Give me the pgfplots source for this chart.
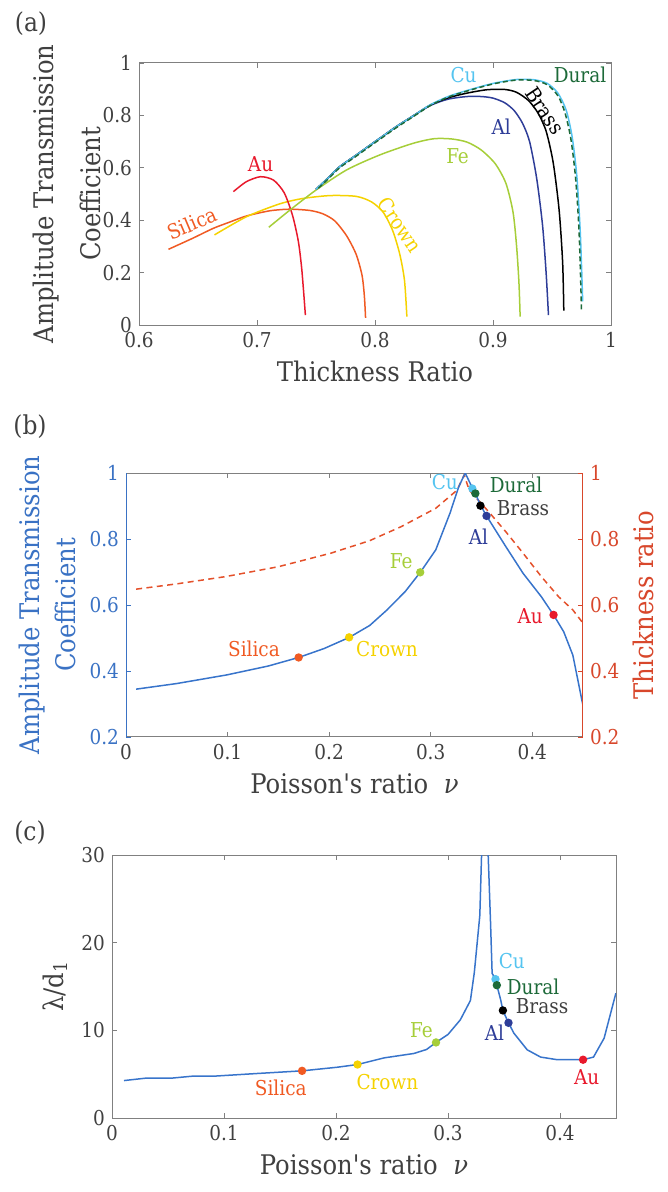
\documentclass[border=0pt]{standalone}
\usepackage{pgfplots}
\pgfplotsset{compat=1.18}
\usepackage{fontspec}
\setmainfont{DejaVu Serif Condensed}
\definecolor{txt}{RGB}{64,64,64}
\definecolor{axg}{RGB}{128,128,128}
\definecolor{csil}{RGB}{240,90,35}
\definecolor{ccro}{RGB}{245,210,0}
\definecolor{cau}{RGB}{232,25,44}
\definecolor{cfe}{RGB}{166,206,57}
\definecolor{cal}{RGB}{46,61,152}
\definecolor{ccu}{RGB}{85,196,240}
\definecolor{cdu}{RGB}{29,106,57}
\definecolor{cblue}{RGB}{56,116,203}
\definecolor{cred}{RGB}{228,80,42}
\definecolor{cblab}{RGB}{58,114,196}
\definecolor{crlab}{RGB}{216,71,43}
\newcommand\tf{\fontsize{10.25}{12}\selectfont}
\newcommand\lf{\fontsize{13.5}{17}\selectfont}
\pgfplotsset{
  mystyle/.style={
    scale only axis, anchor=north west,
    tick align=inside, major tick length=2.5pt,
    major tick style={axg, line width=0.4pt},
    axis line style={axg, line width=0.5pt},
    tick label style={font=\tf, text=txt},
    label style={font=\lf, text=txt},
    /pgf/number format/assume math mode=true,
    clip mode=individual,
    every axis plot/.append style={line width=0.75pt},
  },
  dot/.style={only marks, mark=*, mark size=1.7pt, color=#1},
}
\begin{document}
\begin{tikzpicture}
\path[use as bounding box] (0,0) rectangle (334pt,-596pt);
\node[font=\fontsize{13}{15}\selectfont, text=txt] at (15.5pt,-12pt) {(a)};
\node[font=\fontsize{13}{15}\selectfont, text=txt] at (15pt,-213.5pt) {(b)};
\node[font=\fontsize{13}{15}\selectfont, text=txt] at (15pt,-416.5pt) {(c)};

% ---------------- (a)
\begin{axis}[mystyle, at={(69.5pt,-31.5pt)}, width=236pt, height=131pt,
  xmin=0.6, xmax=1, ymin=0, ymax=1,
  xtick={0.6,0.7,0.8,0.9,1}, ytick={0,0.2,0.4,0.6,0.8,1},
  xlabel={Thickness Ratio},
  ylabel={Amplitude Transmission\\Coefficient},
  ylabel style={align=center, font=\fontsize{13.5}{23.5}\selectfont,
    at={(axis description cs:-0.1536,0.5)}, anchor=center}]
\addplot[csil, smooth, tension=0.45] coordinates {(0.625,0.289)(0.645,0.330)(0.663,0.369)(0.677,0.393)(0.691,0.416)(0.711,0.436)(0.728,0.442)(0.745,0.437)(0.756,0.424)(0.766,0.397)(0.776,0.340)(0.784,0.270)(0.789,0.190)(0.791,0.110)(0.792,0.027)};
\addplot[ccro, smooth, tension=0.45] coordinates {(0.664,0.344)(0.691,0.413)(0.719,0.462)(0.739,0.483)(0.762,0.494)(0.784,0.491)(0.797,0.470)(0.807,0.430)(0.815,0.360)(0.821,0.270)(0.825,0.170)(0.827,0.032)};
\addplot[cau, smooth, tension=0.45] coordinates {(0.680,0.509)(0.691,0.547)(0.703,0.566)(0.714,0.553)(0.723,0.505)(0.730,0.420)(0.735,0.320)(0.738,0.210)(0.741,0.038)};
\addplot[cfe, smooth, tension=0.45] coordinates {(0.710,0.373)(0.728,0.439)(0.750,0.515)(0.776,0.592)(0.804,0.649)(0.832,0.693)(0.850,0.711)(0.865,0.710)(0.878,0.698)(0.890,0.668)(0.902,0.615)(0.911,0.540)(0.917,0.430)(0.920,0.300)(0.922,0.160)(0.923,0.032)};
\addplot[cal, smooth, tension=0.45] coordinates {(0.750,0.518)(0.760,0.56)(0.770,0.604)(0.783,0.645)(0.796,0.687)(0.807,0.722)(0.818,0.757)(0.833,0.80)(0.847,0.838)(0.862,0.862)(0.878,0.872)(0.890,0.872)(0.900,0.866)(0.910,0.848)(0.918,0.818)(0.925,0.770)(0.931,0.700)(0.937,0.560)(0.942,0.380)(0.945,0.200)(0.947,0.038)};
\addplot[black, smooth, tension=0.45] coordinates {(0.750,0.518)(0.760,0.56)(0.770,0.604)(0.783,0.645)(0.796,0.687)(0.807,0.722)(0.818,0.757)(0.833,0.80)(0.847,0.840)(0.862,0.867)(0.878,0.885)(0.895,0.898)(0.910,0.899)(0.920,0.888)(0.930,0.857)(0.938,0.810)(0.945,0.740)(0.951,0.620)(0.956,0.440)(0.959,0.240)(0.960,0.055)};
\addplot[ccu, smooth, tension=0.45] coordinates {(0.750,0.518)(0.760,0.56)(0.770,0.604)(0.783,0.645)(0.796,0.687)(0.807,0.722)(0.818,0.757)(0.833,0.80)(0.847,0.841)(0.862,0.872)(0.878,0.895)(0.900,0.922)(0.920,0.937)(0.935,0.936)(0.946,0.922)(0.955,0.885)(0.962,0.82)(0.967,0.72)(0.971,0.57)(0.974,0.35)(0.976,0.09)};
\addplot[cdu, smooth, tension=0.45, dash pattern=on 2.5pt off 1.5pt] coordinates {(0.752,0.522)(0.760,0.556)(0.770,0.600)(0.783,0.641)(0.796,0.683)(0.807,0.718)(0.818,0.753)(0.833,0.797)(0.847,0.838)(0.862,0.870)(0.878,0.893)(0.900,0.920)(0.920,0.935)(0.935,0.933)(0.946,0.917)(0.955,0.875)(0.961,0.81)(0.966,0.71)(0.970,0.56)(0.973,0.35)(0.975,0.057)};
\node[text=ccu, font=\tf] at (axis cs:0.875,0.954) {Cu};
\node[text=cdu, font=\tf] at (axis cs:0.9737,0.954) {Dural};
\node[text=black, font=\tf, rotate=-56, inner sep=0pt] at (axis cs:0.944,0.818) {Brass};
\node[text=cal, font=\tf] at (axis cs:0.907,0.755) {Al};
\node[text=cfe, font=\tf] at (axis cs:0.870,0.645) {Fe};
\node[text=ccro, font=\tf, rotate=-56, inner sep=0pt] at (axis cs:0.821,0.382) {Crown};
\node[text=csil, font=\tf, rotate=23, inner sep=0pt] at (axis cs:0.645,0.388) {Silica};
\node[text=cau, font=\tf] at (axis cs:0.703,0.613) {Au};
\end{axis}

% ---------------- (b)
\begin{axis}[mystyle, at={(63pt,-236.5pt)}, width=228.5pt, height=132pt,
  xmin=0, xmax=0.45, ymin=0.2, ymax=1,
  axis x line*=box, axis y line*=left,
  xtick={0,0.1,0.2,0.3,0.4}, ytick={0.2,0.4,0.6,0.8,1},
  y axis line style={cblab}, ytick style={cblab},
  y tick label style={text=cblab},
  xlabel={Poisson\textquotesingle s ratio~~{\itshape ν}},
  ylabel={Amplitude Transmission\\Coefficient},
  ylabel style={align=center, text=cblab, font=\fontsize{13.5}{18}\selectfont,
    at={(axis description cs:-0.1729,0.5)}, anchor=center}]
\addplot[cred, dash pattern=on 3pt off 2.2pt] coordinates {(0.010,0.648)(0.05,0.664)(0.098,0.686)(0.15,0.716)(0.2017,0.757)(0.24,0.795)(0.2707,0.837)(0.305,0.893)(0.326,0.948)(0.333,0.994)(0.338,0.948)(0.357,0.883)(0.374,0.822)(0.391,0.757)(0.409,0.686)(0.426,0.625)(0.440,0.585)(0.450,0.545)};
\addplot[cblue] coordinates {(0.010,0.345)(0.05,0.362)(0.099,0.388)(0.14,0.415)(0.170,0.441)(0.195,0.468)(0.220,0.502)(0.24,0.538)(0.257,0.585)(0.275,0.641)(0.290,0.700)(0.305,0.767)(0.319,0.878)(0.3276,0.958)(0.334,1.0)(0.341,0.955)(0.344,0.938)(0.349,0.903)(0.355,0.870)(0.374,0.777)(0.391,0.696)(0.409,0.625)(0.421,0.570)(0.431,0.519)(0.440,0.448)(0.450,0.295)};
\addplot[dot=csil] coordinates {(0.170,0.441)};
\addplot[dot=ccro] coordinates {(0.2197,0.502)};
\addplot[dot=cfe] coordinates {(0.2897,0.699)};
\addplot[dot=ccu] coordinates {(0.341,0.953)};
\addplot[dot=cdu] coordinates {(0.344,0.938)};
\addplot[dot=black] coordinates {(0.349,0.901)};
\addplot[dot=cal] coordinates {(0.355,0.870)};
\addplot[dot=cau] coordinates {(0.421,0.570)};
\node[text=ccu, font=\tf] at (axis cs:0.314,0.974) {Cu};
\node[text=cdu, font=\tf] at (axis cs:0.384,0.964) {Dural};
\node[text=txt, font=\tf] at (axis cs:0.391,0.893) {Brass};
\node[text=cal, font=\tf] at (axis cs:0.347,0.807) {Al};
\node[text=cfe, font=\tf] at (axis cs:0.271,0.734) {Fe};
\node[text=cau, font=\tf] at (axis cs:0.398,0.565) {Au};
\node[text=csil, font=\tf] at (axis cs:0.126,0.466) {Silica};
\node[text=ccro, font=\tf] at (axis cs:0.257,0.466) {Crown};
\end{axis}
\begin{axis}[mystyle, at={(63pt,-236.5pt)}, width=228.5pt, height=132pt,
  xmin=0, xmax=0.45, ymin=0.2, ymax=1,
  axis x line=none, axis y line*=right,
  ytick={0.2,0.4,0.6,0.8,1},
  y axis line style={crlab}, ytick style={crlab},
  y tick label style={text=crlab},
  ylabel={Thickness ratio}, ylabel style={text=crlab}]
\addplot[draw=none] coordinates {(0,0.5)};
\end{axis}

% ---------------- (c)
\begin{axis}[mystyle, at={(56pt,-427.5pt)}, width=252pt, height=131.5pt,
  xmin=0, xmax=0.45, ymin=0, ymax=30,
  xtick={0,0.1,0.2,0.3,0.4}, ytick={0,10,20,30},
  xlabel={Poisson\textquotesingle s ratio~~{\itshape ν}},
  ylabel={λ/d\textsubscript{1}}]
\addplot[cblue] coordinates {(0.0107,4.27)(0.0297,4.54)(0.0525,4.54)(0.0716,4.77)(0.0906,4.77)(0.1286,5.07)(0.1697,5.38)(0.201,5.79)(0.2192,6.10)(0.243,6.86)(0.2695,7.36)(0.2809,7.82)(0.2893,8.62)(0.300,9.53)(0.311,11.2)(0.320,13.4)(0.3235,16.6)(0.3284,23.1)(0.3302,31)};
\addplot[cblue] coordinates {(0.3356,31)(0.338,22.2)(0.3394,16.5)(0.3424,15.84)(0.3436,15.15)(0.347,13.5)(0.349,12.27)(0.354,10.86)(0.3588,9.68)(0.3707,7.78)(0.3827,6.95)(0.3976,6.65)(0.4096,6.65)(0.4206,6.65)(0.4299,6.95)(0.4394,9.11)(0.4499,14.24)};
\addplot[dot=csil] coordinates {(0.1697,5.38)};
\addplot[dot=ccro] coordinates {(0.2192,6.10)};
\addplot[dot=cfe] coordinates {(0.2893,8.62)};
\addplot[dot=ccu] coordinates {(0.3424,15.84)};
\addplot[dot=cdu] coordinates {(0.3436,15.15)};
\addplot[dot=black] coordinates {(0.349,12.27)};
\addplot[dot=cal] coordinates {(0.354,10.86)};
\addplot[dot=cau] coordinates {(0.4206,6.65)};
\node[text=ccu, font=\tf] at (axis cs:0.357,17.85) {Cu};
\node[text=cdu, font=\tf] at (axis cs:0.376,15.0) {Dural};
\node[text=txt, font=\tf] at (axis cs:0.384,12.72) {Brass};
\node[text=cal, font=\tf] at (axis cs:0.3415,9.76) {Al};
\node[text=cfe, font=\tf] at (axis cs:0.2763,10.03) {Fe};
\node[text=cau, font=\tf] at (axis cs:0.4239,4.67) {Au};
\node[text=csil, font=\tf] at (axis cs:0.1507,3.43) {Silica};
\node[text=ccro, font=\tf] at (axis cs:0.2459,4.08) {Crown};
\end{axis}
\end{tikzpicture}
\end{document}
